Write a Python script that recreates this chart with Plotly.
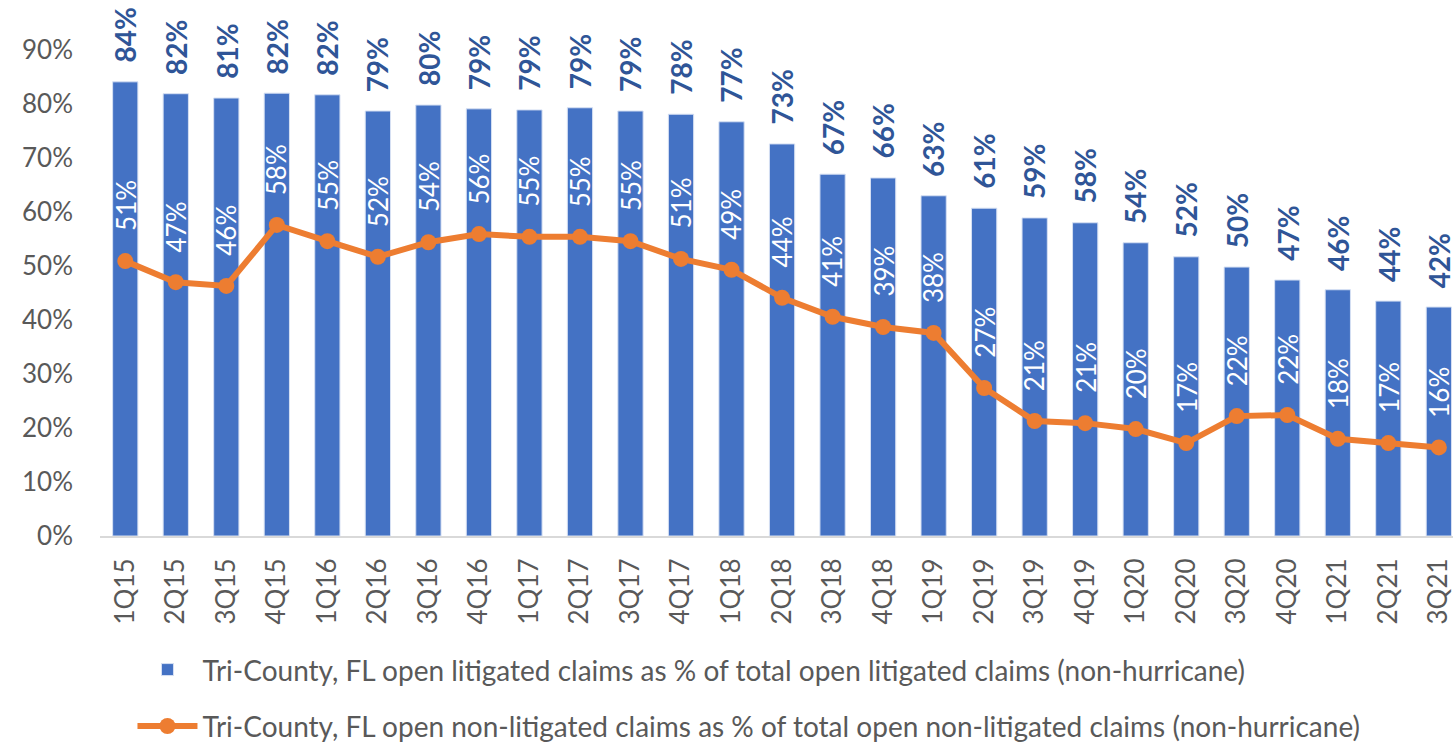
import plotly.graph_objects as go

categories = ["1Q15","2Q15","3Q15","4Q15","1Q16","2Q16","3Q16","4Q16","1Q17","2Q17","3Q17","4Q17",
              "1Q18","2Q18","3Q18","4Q18","1Q19","2Q19","3Q19","4Q19","1Q20","2Q20","3Q20","4Q20",
              "1Q21","2Q21","3Q21"]
litigated = [0.841,0.819,0.811,0.820,0.817,0.787,0.798,0.791,0.789,0.793,0.787,0.781,
             0.767,0.726,0.670,0.663,0.630,0.607,0.589,0.580,0.543,0.517,0.498,0.474,
             0.456,0.435,0.424]
non_litigated = [0.509,0.470,0.463,0.576,0.546,0.517,0.544,0.559,0.554,0.554,0.546,0.513,
                 0.493,0.441,0.406,0.387,0.376,0.274,0.213,0.209,0.198,0.172,0.222,0.224,
                 0.180,0.172,0.164]
y_ticks = [0,0.1,0.2,0.3,0.4,0.5,0.6,0.7,0.8,0.9]
name_bar = "Tri-County, FL open litigated claims as % of total open litigated claims (non-hurricane)"
name_line = "Tri-County, FL open non-litigated claims as % of total open non-litigated claims (non-hurricane)"

FONT = "Lato"
BLUE = "#4472C4"
ORANGE = "#ED7D31"
DARKBLUE = "#2F5597"
GREY = "#595959"

fig = go.Figure()
fig.add_trace(go.Bar(x=categories, y=litigated, name=name_bar, marker_color=BLUE,
                     marker_line=dict(color="#D6E0F3", width=1), legendgroup="a",
                     hoverinfo="skip"))
fig.add_trace(go.Scatter(x=categories, y=non_litigated, name=name_line, mode="lines+markers",
                         line=dict(color=ORANGE, width=6), marker=dict(size=16, color=ORANGE),
                         legendgroup="b", hoverinfo="skip"))

annotations = []
for c, v in zip(categories, litigated):
    annotations.append(dict(x=c, y=v, xref="x", yref="y", text=f"{round(v*100):.0f}%",
                            textangle=-90, showarrow=False, yanchor="bottom", yshift=17,
                            font=dict(family=FONT, size=28, color=DARKBLUE, weight="bold")))
for c, v in zip(categories, non_litigated):
    annotations.append(dict(x=c, y=v, xref="x", yref="y", text=f"{round(v*100):.0f}%",
                            textangle=-90, showarrow=False, yanchor="bottom", yshift=28,
                            font=dict(family=FONT, size=26, color="white")))

fig.update_layout(
    width=1453, height=746,
    margin=dict(l=100, r=0, t=10, b=210, autoexpand=False),
    plot_bgcolor="white", paper_bgcolor="white",
    bargap=0.5,
    font=dict(family=FONT, color=GREY, size=26),
    xaxis=dict(type="category", range=[-0.5, 26.28], tickangle=-90, showline=True,
               linecolor="#D9D9D9", linewidth=2, ticks="", tickfont=dict(size=26, color=GREY),
               showgrid=False, ticklabelstandoff=10, automargin=False),
    yaxis=dict(range=[0, 0.974], tickvals=y_ticks, tickformat=".0%", showgrid=False,
               zeroline=False, showline=False, ticks="", tickfont=dict(size=26, color=GREY),
               ticklabelstandoff=26, automargin=False),
    showlegend=True,
    legend=dict(x=0.024, y=-0.207, xanchor="left", yanchor="top", orientation="v",
                font=dict(size=28, color=GREY, family=FONT), tracegroupgap=17,
                itemwidth=60),
    annotations=annotations,
)

fig.write_html("out.html", config={"displayModeBar": False},
               post_script="document.body.style.margin='0px';")
